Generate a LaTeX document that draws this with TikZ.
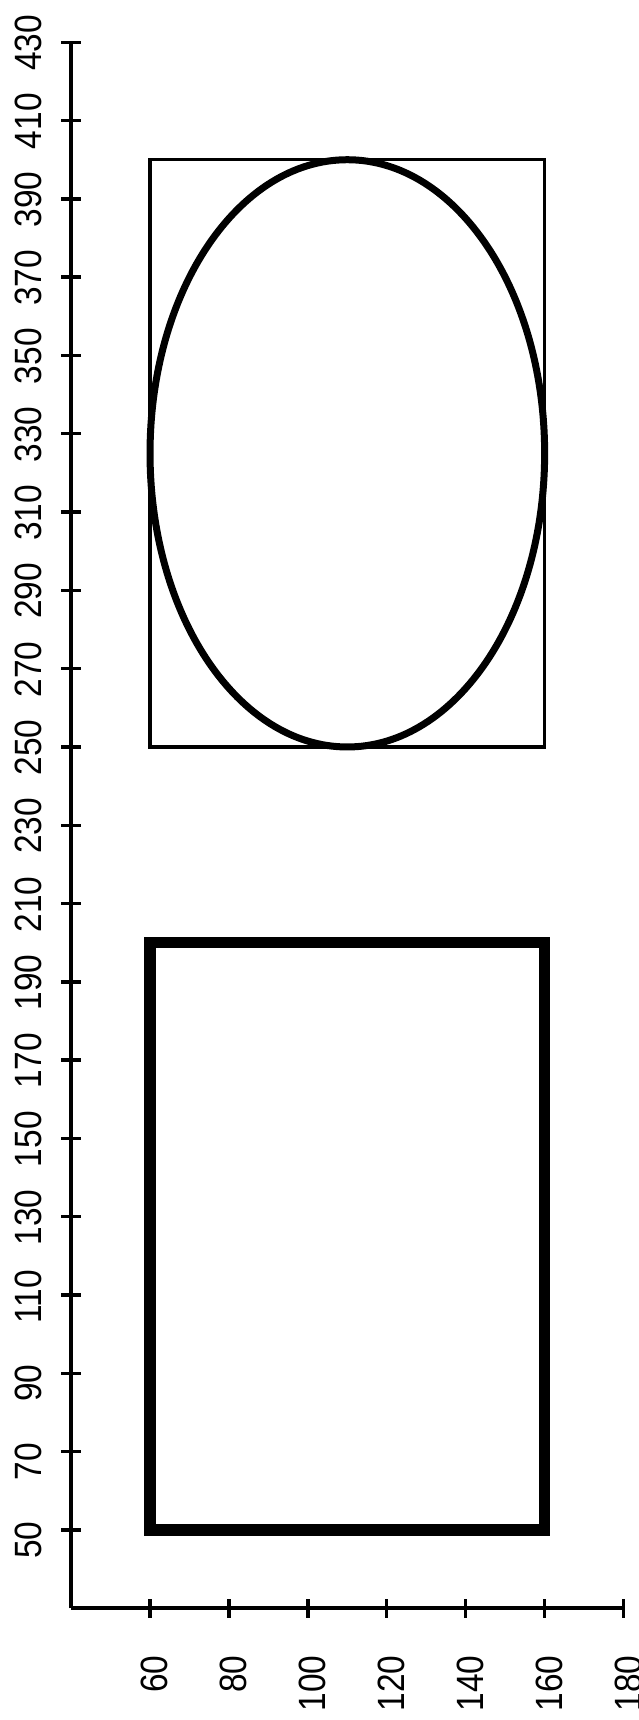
\documentclass[tikz,border=0pt]{standalone}
\usepackage{fontspec}
\setmainfont{Liberation Sans}
\newfontfamily\ticklabelfont[FakeStretch=0.88]{Liberation Sans}
\usepackage{tikz}
\usetikzlibrary{positioning,calc}

\begin{document}
\begin{tikzpicture}[x=1.973pt, y=1.9575pt, >=stealth]
  % Styles
  \tikzstyle{axisline} = [line width=2pt]
  \tikzstyle{tickmark} = [line width=1.7pt]
  \tikzstyle{ticklabel} = [inner sep=0pt, rotate=90, font=\ticklabelfont\fontsize{19}{19}\selectfont]
  \tikzstyle{boldbox} = [line width=5.75pt]
  \tikzstyle{thinbox} = [line width=1.6pt]
  \tikzstyle{oval} = [line width=3.5pt]

  \useasboundingbox (21.98,1.47) rectangle (183.67,440.8);

  % Axes
  \coordinate (origin) at (40,30);
  \coordinate (xend) at (180,30);
  \coordinate (yend) at (40,430);
  \draw [axisline] (origin) -- (xend);
  \draw [axisline] (origin) -- (yend);

  % Ticks and labels
  \foreach \x in {60,80,...,180} {
    \draw [tickmark] (\x,30) ++(0,-4.75pt) -- ++(0,9.5pt);
    \node [ticklabel, anchor=base east] (xlab\x) at ([xshift=8.75pt, yshift=-23.5pt]\x,30) {\x};
  }
  \foreach \y in {50,70,...,430} {
    \draw [tickmark] (40,\y) ++(-5pt,0) -- ++(10pt,0);
    \node [ticklabel, anchor=base west] (ylab\y) at ([xshift=-15pt, yshift=-14.5pt]40,\y) {\y};
  }

  % Shapes
  \draw [boldbox] (60,50) rectangle (160,200);
  \draw [thinbox] (60,250) rectangle (160,400);
  \draw [oval] (110,325) ellipse [x radius=50, y radius=75];

\end{tikzpicture}
\end{document}
